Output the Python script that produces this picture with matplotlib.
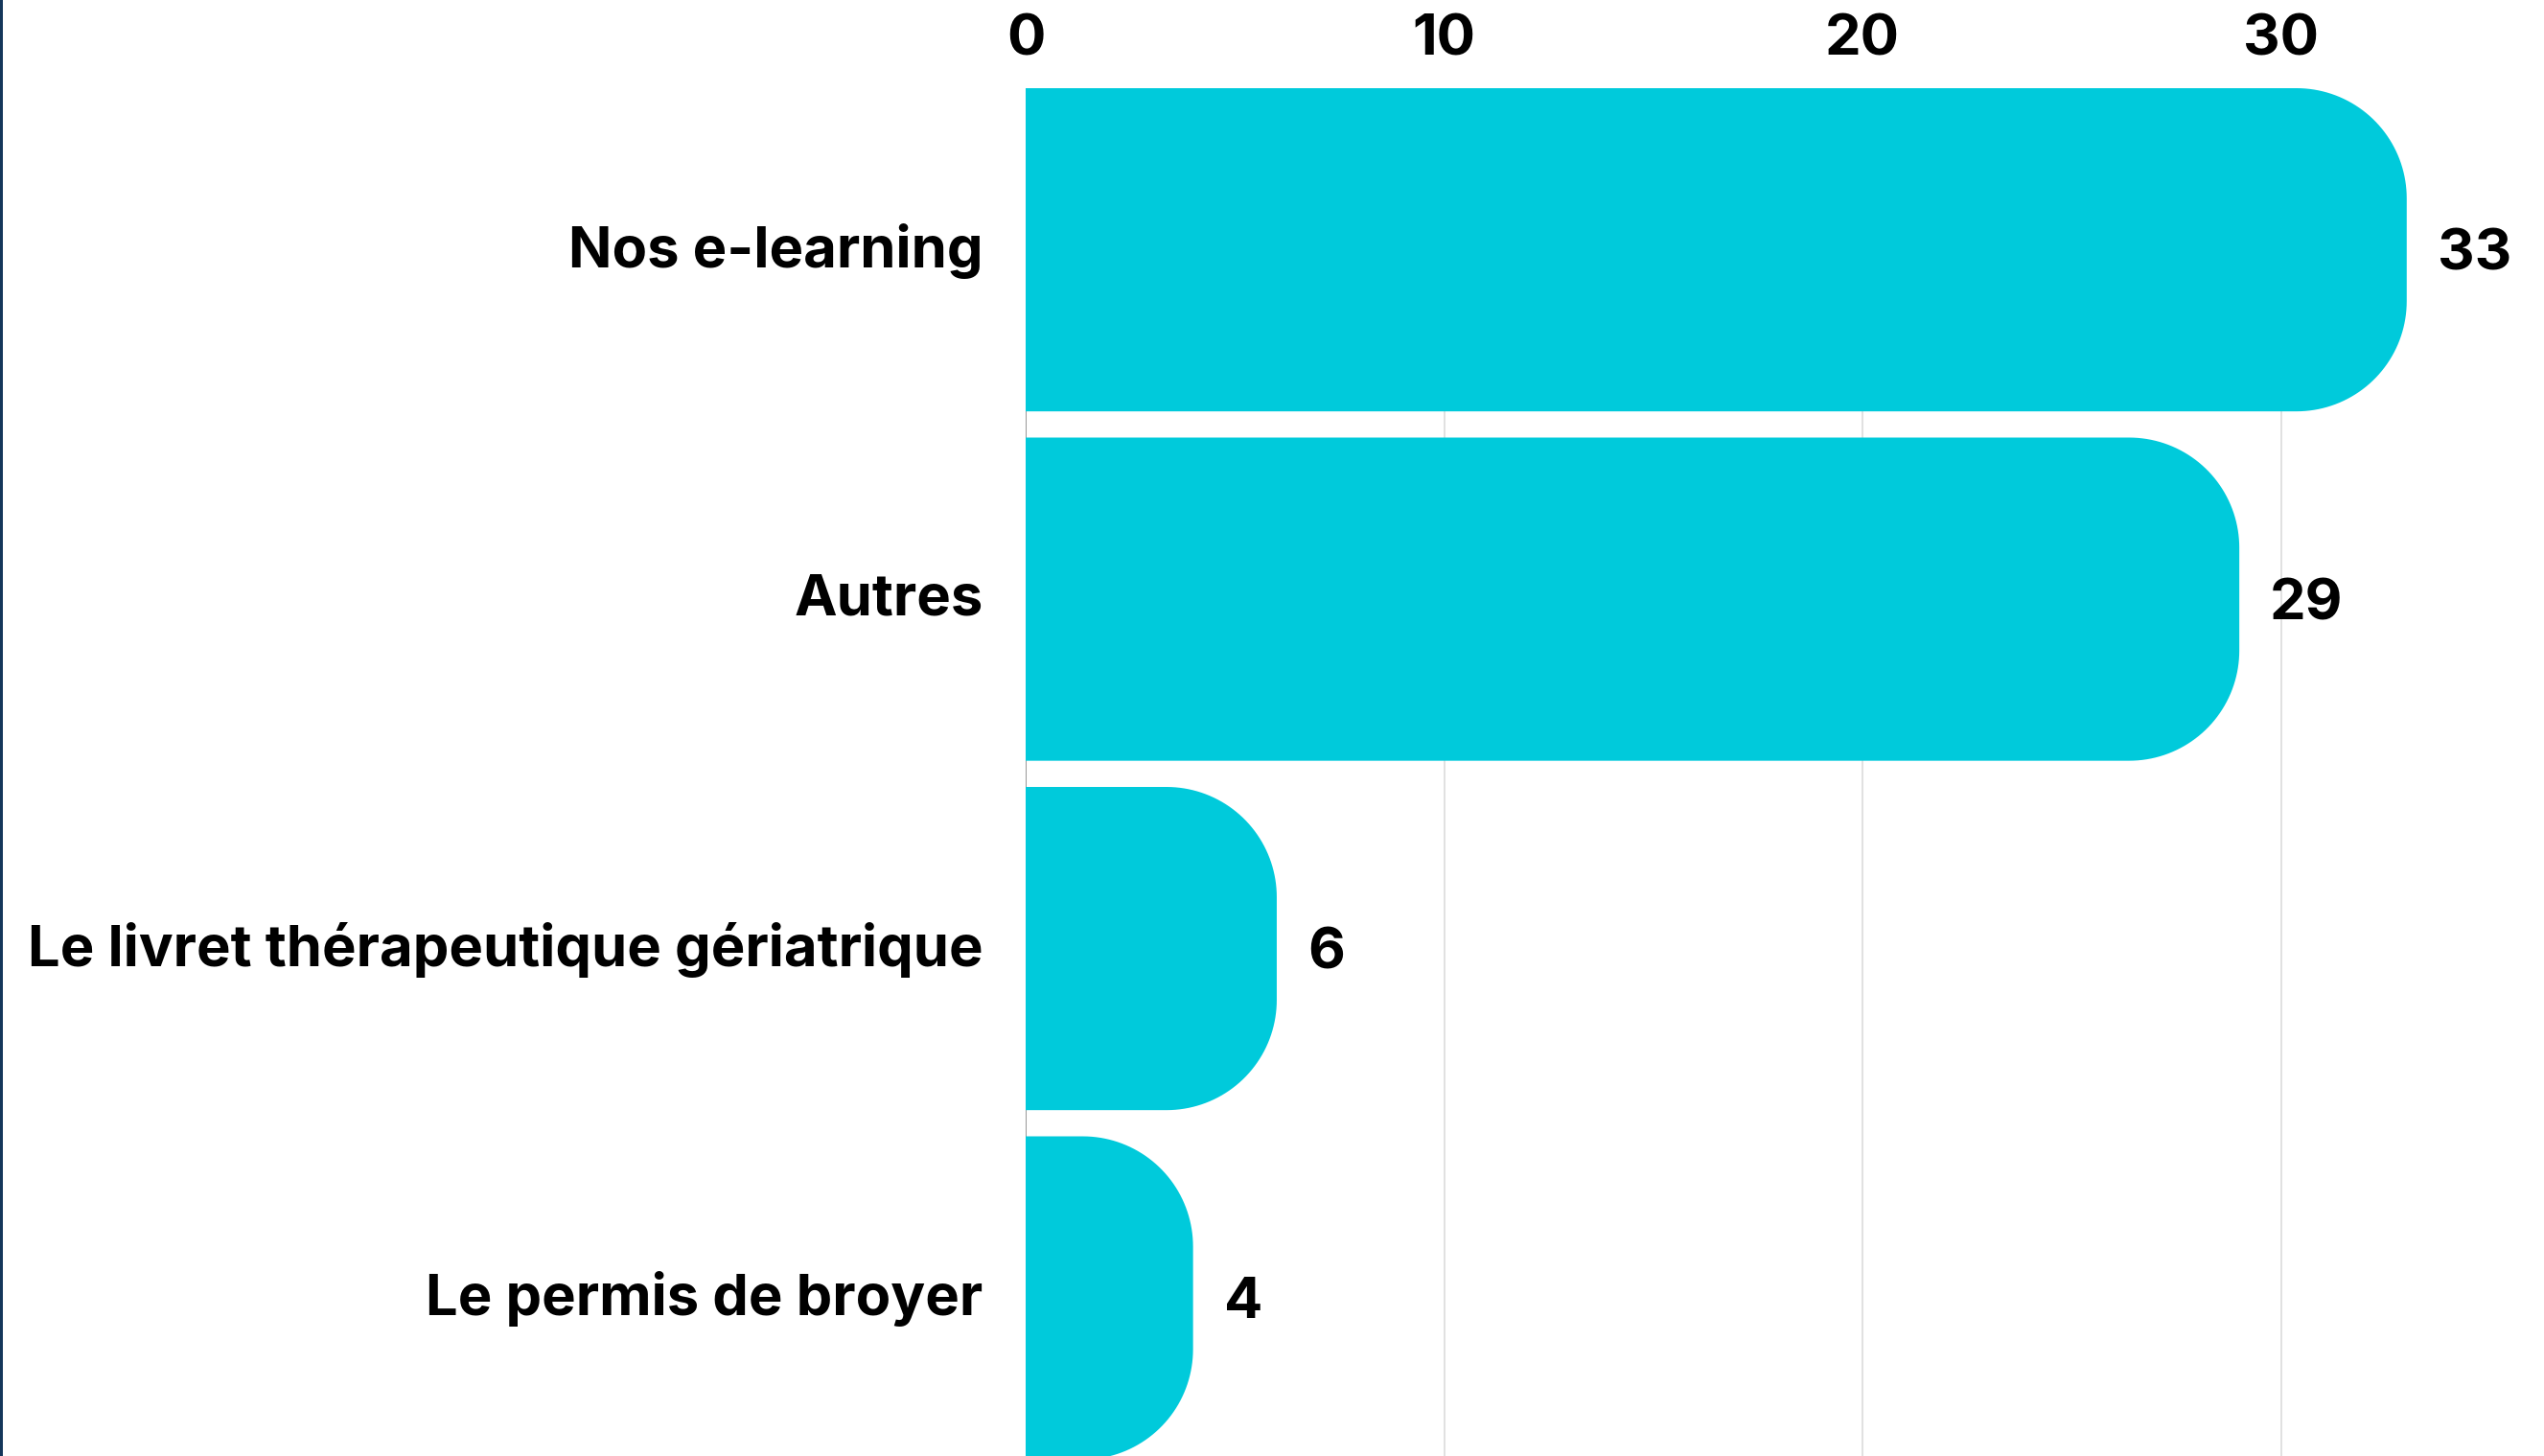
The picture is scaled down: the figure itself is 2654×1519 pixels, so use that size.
import matplotlib
matplotlib.use('Agg')
import matplotlib.pyplot as plt
import matplotlib.transforms as mtransforms
import numpy as np
from matplotlib.path import Path
from matplotlib.patches import PathPatch, Rectangle

# data
categories = ["Nos e-learning", "Autres", "Le livret thérapeutique gériatrique", "Le permis de broyer"]
values = [33, 29, 6, 4]
xticks = [0, 10, 20, 30]

bar_color = '#00CADB'
fam = ['Inter', 'DejaVu Sans']
plt.rcParams['font.family'] = fam
plt.rcParams['font.weight'] = 'bold'

W, H = 2654, 1519
fig = plt.figure(figsize=(W / 100, H / 100), dpi=100)
ax = fig.add_axes([1070 / W, 0, 1 - 1070 / W, 1 - 92 / H])

ax.set_xlim(0, 1584 / 43.66)
ax.set_ylim(-0.4625 + 1427 / 364.5, -0.4625)

# invisible bars give the extents, rounded shapes drawn on top
bars = ax.barh(range(len(values)), values, height=0.925, color='none', edgecolor='none')

fig.canvas.draw()
p0 = ax.transData.transform((0, 0))
p1 = ax.transData.transform((1, 1))
rx = 115 / abs(p1[0] - p0[0])
ry = 115 / abs(p1[1] - p0[1])

for b in bars:
    x0, y0 = b.get_x(), b.get_y()
    x1, y1 = x0 + b.get_width(), y0 + b.get_height()
    t1 = np.linspace(-np.pi / 2, 0, 40)
    t2 = np.linspace(0, np.pi / 2, 40)
    arc1 = np.column_stack([x1 - rx + rx * np.cos(t1), y0 + ry + ry * np.sin(t1)])
    arc2 = np.column_stack([x1 - rx + rx * np.cos(t2), y1 - ry + ry * np.sin(t2)])
    verts = np.vstack([[x0, y0], arc1, arc2, [x0, y1], [x0, y0]])
    codes = [Path.MOVETO] + [Path.LINETO] * (len(verts) - 2) + [Path.CLOSEPOLY]
    ax.add_patch(PathPatch(Path(verts, codes), facecolor=bar_color, edgecolor='none', zorder=3))

for i, v in enumerate(values):
    ax.annotate(str(v), (v, i), xytext=(23, -4), textcoords='offset points',
                va='center', ha='left', fontsize=43, fontweight='bold', color='black')

ax.set_yticks(range(len(categories)))
ax.set_yticklabels(categories, fontsize=43, fontweight='bold')
ax.xaxis.tick_top()
ax.set_xticks(xticks)
ax.set_xticklabels([str(t) for t in xticks], fontsize=43, fontweight='bold')
ax.tick_params(axis='both', length=0)
ax.tick_params(axis='y', pad=32)
ax.tick_params(axis='x', pad=16)

# nudge category labels up a little
shift = mtransforms.ScaledTranslation(0, 5 / 100, fig.dpi_scale_trans)
for lab in ax.get_yticklabels():
    lab.set_transform(lab.get_transform() + shift)

ax.grid(axis='x', color='#dcdcdc', linewidth=1.2, zorder=0)
ax.set_axisbelow(True)
ax.axvline(0, color='#8a8a8a', linewidth=1.2, zorder=1)
for s in ax.spines.values():
    s.set_visible(False)

# dark strip on the left edge
fig.patches.append(Rectangle((0, 0), 3 / W, 1, transform=fig.transFigure,
                             facecolor='#15365a', edgecolor='none'))

fig.savefig('out.png', dpi=100)
